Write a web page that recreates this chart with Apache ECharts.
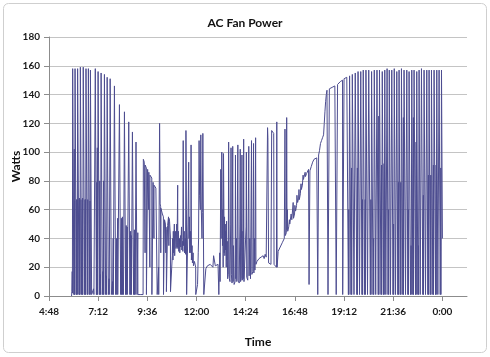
<!DOCTYPE html>
<html><head><meta charset="utf-8">
<script src="https://cdn.jsdelivr.net/npm/echarts@6/dist/echarts.min.js"></script>
<style>html,body{margin:0;padding:0;background:#fff}#c{width:490px;height:357px}</style>
</head><body><div id="c"></div>
<script>
// time in minutes after midnight, power in watts
const morningRun = [[354,0],[355,3],[356,17],[356.5,2],
[357,2],[357.3,158],[360.5,158],[360.8,1],[361.5,1],[362,102],[362.3,1],[363,66],[363.3,1],
[364,1],[364.3,158],[367.5,159],[367.8,1],[368.5,1],[369,67],[369.3,1],[370.5,67],[370.8,1],
[371.5,1],[371.8,158],[375.5,159],[375.8,1],[376.5,1],[377,68],[377.3,1],[378.5,67],[378.8,1],
[379.5,1],[379.8,159],[383.3,159],[383.6,1],[384.5,1],[385,67],[385.3,1],[386.5,68],[386.8,1],
[388,1],[388.3,159],[392,158],[392.3,1],[393,1],[393.5,67],[393.8,1],[395,67],[395.3,1],
[396,1],[396.3,158],[400,158],[400.3,1],[401,1],[401.5,67],[401.8,1],
[403,1],[403.3,158],[406.8,158],[407.1,1],[407.8,1],[408.2,66],[408.5,1],
[409,1],[409.3,157],[412.5,158],[412.8,1],[414,1],[417,2],[418.5,5],[419.5,1],[423,1]];

const lateMorning = [[423.3,1],[423.6,158],[426.5,159],[426.8,1],[427.5,1],[428,79],[428.3,1],[429.5,103],[429.8,1],
[431.5,1],[431.8,156],[435,156],[435.3,1],[436,1],[436.5,80],[436.8,1],[438.5,15],[439,1],
[440.3,1],[440.6,155],[443.8,154],[444.1,1],[445,1],[446,17],[446.5,1],[448,80],[448.3,1],
[450,1],[450.3,154],[453.5,153],[453.8,1],[455,1],[456,14],[456.5,1],
[458,1],[458.3,152],[461.5,152],[461.8,1],[463,1],[464,12],[464.5,1],
[466.8,1],[467.1,151],[470.3,150],[470.6,1],[472,1],[474,10],[474.5,1],[476,40],[476.3,1],
[479.3,1],[479.6,146],[482.8,145],[483.1,1],[485,1],[486,40],[486.3,1],[489,54],[489.3,1],
[494,1],[494.3,133],[497.5,132],[497.8,1],[499,1],[500,54],[500.3,1],[503,55],[503.3,1],[505,5],[506,1],
[508.6,1],[508.9,128],[512,127],[512.3,1],[513.5,1],[514,49],[514.3,1],[517,48],[517.3,1],[519,1],
[521.2,1],[521.5,121],[524.5,120],[524.8,1],[526,1],[527,45],[527.3,1],[529,42],[529.3,1],
[532,1],[532.3,114],[535.3,113],[535.6,1],[537,1],[538,46],[538.3,1],[540,40],[540.3,1],
[542.5,1],[542.8,107],[545.5,106],[545.8,1],[547,1],[548,44],[548.3,1],[551,2],[555,1],[560,2],[563.5,1],
[564,1],[564.3,95],[567,93],[569,92],[569.3,30],[569.6,91],[573,89],[573.3,1],[576.5,1],[576.8,88],[579,87],[580,60],
[580.4,86],[583,85],[583.3,20],[583.6,84],[586,83],[589,82],[589.3,1],
[592.5,1],[592.8,79],[595,78],[595.3,40],[595.6,77],[599,76],[601,75],[604.5,74],[604.8,1],[607,1],[609,20],[609.3,1],
[611.5,1],[611.8,120],[613.5,64],[615,62],[615.3,30],[615.6,61],[617,60],[620,57],[623,55],[623.3,1]];

const midday = [[626,1],[626.3,53],[629,50],[630,30],[630.3,48],[631.5,46],[631.8,3],[635,2],[635.3,49],[638,55],[639,35],[639.3,54],[641,52],[643.5,41],[643.8,3],
[648,2],[649,28],[650,40],[651,25],[652,45],[653,30],[655,50],[656,28],[657,36],[659,45],[660,33],[662,50],[663,34],[664.5,34],[664.8,77],[665.3,33],[667,45],[668,31],[670,40],[671,30],
[673,42],[674,34],[676,48],[677,32],[679,38],[680,31],[681,108],[682,35],[684,45],[685,30],[687,40],[688,29],[689,115],[690.5,60],[691,1],[694,1],[695,50],
[697,93],[698,40],[699,55],[700,30],[702,45],[703.5,30],[704,105],[705,25],[707,35],[708,23],[710,30],[711,21],[714,24],[717.5,20],[717.8,1],
[721,1],[723,8],[725,30],[726,40],[727.5,108],[729,70],[731,60],[732.5,112],[734,60],[736,40],[737,58],[738.5,113],[741,113],[741.3,1],
[746,1],[747,1],[747.3,19],[752,21],[756,20],[760,22],[764,21],[768,20],[770,28],[773,27],[775,21],[779,20],[783,22],[785,21],[785.3,1]];

const afternoon = [[786,1],[788,30],[789,10],[791,88],[792,40],[794,100],[795,100],[796,35],[797,60],[798,20],[799,99],[800,99],[801,30],
[802,55],[803,28],[804,50],[805,32],[806,45],[807,20],[808,52],[809,25],[810,38],[811,12],[813,15],[814,107],[815,106],[816,12],
[818,10],[820,50],[821,103],[822,15],[824,9],[826,104],[827,10],[828,35],[830,8],[833,10],[834,98],[835,12],
[837,40],[838,10],[841,105],[842,11],[845,9],[847,50],[848,102],[849,10],[851,12],[853,98],[854,11],
[856,45],[857,12],[858,109],[859,10],[863,9],[865,48],[866,100],[867,13],[870,11],[873,104],[874,14],
[876,40],[878,12],[881,108],[882,15],[885,17],[887,106],[888,16],[890,40],[891,18],[893,110],[894,22],[897,24],[900,23]];

const rampUp = [[903,26],[906,25],[909,27],[912,26],[915,28],[918,26],[921,29],[924,27],[927,27],[928,117],[929,110],
[931,23],[935,24],[938,22],[940,115],[943,114],[946,113],[947,22],[951,21],[954,20],[955,121],[956,20],[959,31],
[962,32],[965,34],[968,35],[971,37],[974,38],[977,40],[979,116],[980,42],[983,44],[984,124],[985,46],[986,60],[987,45],
[990,48],[992,53],[993,50],[996,51],[997,57],[999,53],[1002,54],[1003,65],[1004,54],[1007,57],[1008,63],[1010,59],[1013,63],[1014,70],[1016,65],
[1019,68],[1020,74],[1021,67],[1024,71],[1026,78],[1027,74],[1030,77],[1032,84],[1033,81],[1036,82],[1038,86],[1039,83],[1042,85],[1045,86],[1048,88],
[1049,87],[1049.5,8],[1051,8],[1052,87],[1056,90],[1060,93],[1064,95],[1068,96],[1072,96],[1074.5,96],[1075,1],
[1077,1],[1077.5,98],[1080,101],[1083,106],[1086,108],[1089,110],[1092,112],[1094,120],[1096,128],[1098,135],
[1100,140],[1102,143],[1104.5,144],[1105,1],[1108.5,1],[1109,144],[1113,145],[1117,145],[1121,146],[1125,146],
[1128.5,147],[1129,1],[1132.5,1],[1133,147],[1137,148],[1141,149],[1145,150],[1147.5,150],[1148,1]];

const evening = [[1151.5,1],[1152,151],[1156,152],[1160,152],[1164.4,152],[1164.7,1],[1165.8,60],[1166.1,1],[1167.8,1],[1168.2,153],[1172,153],
[1172.2,1],[1174,89],[1174.3,1],[1175.8,1],[1176.2,154],[1180.8,155],[1181.1,1],[1184.5,1],[1184.8,155],[1189,156],
[1189.3,1],[1191,89],[1191.3,1],[1192.7,1],[1193,156],[1197,157],[1197.3,1],[1200.6,1],[1200.9,156],[1204.2,157],
[1204.5,1],[1206,67],[1206.3,1],[1207.9,1],[1208.2,157],[1212,156],[1212.3,1],[1214,67],[1214.3,1],[1215.8,1],[1216.1,157],[1220.4,158],
[1220.7,1],[1224,1],[1224.3,157],[1228.6,157],[1228.9,1],[1230.6,67],[1230.9,1],[1232.3,1],[1232.6,156],[1236.5,157],
[1236.8,1],[1238.5,40],[1238.8,1],[1240.2,1],[1240.5,157],[1244.4,158],[1244.7,1],[1248.1,1],[1248.4,157],[1251.7,156],
[1252,1],[1253.7,125],[1254,1],[1255.4,1],[1255.7,157],[1259.9,157],[1260.2,1],[1261.9,91],[1262.2,1],[1263.6,1],[1263.9,156],[1267.2,157],
[1267.5,1],[1269.2,92],[1269.5,1],[1270.9,1],[1271.2,157],[1274,157],[1274.3,1],[1277.7,1],[1278,158],[1280.4,157],
[1280.7,1],[1282.4,60],[1282.7,1],[1284.1,1],[1284.4,157],[1287.7,156],[1288,1],[1291.4,1],[1291.7,157],[1295,157],
[1295.3,1],[1297,50],[1297.3,1],[1298.7,1],[1299,158],[1302.4,157],[1302.7,1],[1306.1,1],[1306.4,156],[1309.1,157],
[1309.4,1],[1311.1,79],[1311.4,1],[1312.8,1],[1313.1,157],[1316.1,157],[1316.4,1],[1318.1,79],[1318.4,1],[1319.8,1],[1320.1,158],[1323.7,157],
[1324,1],[1325.7,124],[1326,1],[1327.4,1],[1327.7,157],[1331.7,156],[1332,1],[1335.4,1],[1335.7,157],[1338.4,157],
[1338.7,1],[1340.4,60],[1340.7,1],[1342.1,1],[1342.4,156],[1346.3,157],[1346.6,1],[1348.3,35],[1348.6,1],[1350,1],[1350.3,157],[1353,158],
[1353.3,1],[1355,124],[1355.3,1],[1356.7,1],[1357,157],[1360.9,157],[1361.2,1],[1362.9,107],[1363.2,1],[1364.6,1],[1364.9,156],[1367.7,157],
[1368,1],[1369.7,35],[1370,1],[1371.4,1],[1371.7,157],[1374.7,157],[1375,1],[1378.4,1],[1378.7,158],[1382.3,157],
[1382.6,1],[1384.3,70],[1384.6,1],[1386,1],[1386.3,157],[1390.2,156],[1390.5,1],[1393.9,1],[1394.2,157],[1397,157],
[1397.3,1],[1399,84],[1399.3,1],[1400.7,1],[1401,157],[1404,157],[1404.3,1],[1406,84],[1406.3,1],[1407.7,1],[1408,157],[1411.6,158],
[1411.9,1],[1413.6,91],[1413.9,1],[1415.3,1],[1415.6,157],[1419.5,157],[1419.8,1],[1421.5,91],[1421.8,1],[1423.2,1],[1423.5,157],[1426.3,156],
[1426.6,1],[1430,1],[1430.3,157],[1433.3,157],[1433.6,1],[1435.3,89],[1435.6,1],[1437,1],[1437.3,157],[1439.5,157],[1440,40]];

const tickMinutes = [288,432,576,720,864,1008,1152,1296,1440];
const yTicks = {min:0, max:180, step:20};

const data = [].concat(morningRun, lateMorning, midday, afternoon, rampUp, evening);

function fmt(v){const h=Math.floor(v/60)%24, m=Math.round(v%60);return h+':'+(m<10?'0':'')+m;}
const font = 'Lato, "Open Sans", sans-serif';
const chart = echarts.init(document.getElementById('c'), null, {renderer:'canvas'});
chart.setOption({
  animation:false,
  backgroundColor:'#fff',
  title:{text:'AC Fan Power', left:'center', top:12, textStyle:{fontFamily:font, fontSize:12, fontWeight:'bold', color:'#111'}},
  graphic:[{type:'rect', shape:{x:3.5,y:3.5,width:483,height:349,r:5}, style:{fill:'none', stroke:'#cfcfcf', lineWidth:1}, silent:true}],
  grid:{left:49, right:23, top:37, bottom:61, containLabel:false, outerBoundsMode:'none'},
  xAxis:{type:'value', min:288, max:1512, interval:144,
    name:'Time', nameLocation:'middle', nameGap:40, nameMoveOverlap:false,
    nameTextStyle:{fontFamily:font, fontSize:12, fontWeight:'bold', color:'#111'},
    axisLine:{show:true, onZero:false, lineStyle:{color:'#8c8c8c', width:1}},
    axisTick:{show:true, length:5, customValues:tickMinutes, lineStyle:{color:'#8c8c8c'}},
    axisLabel:{customValues:tickMinutes, formatter:fmt, margin:11, fontFamily:font, fontSize:10, fontWeight:'bold', color:'#1a1a1a'},
    splitLine:{show:false}},
  yAxis:{type:'value', min:yTicks.min, max:yTicks.max, interval:yTicks.step,
    name:'Watts', nameLocation:'middle', nameGap:27, nameRotate:90, nameMoveOverlap:false,
    nameTextStyle:{fontFamily:font, fontSize:12, fontWeight:'bold', color:'#111'},
    axisLine:{show:true, lineStyle:{color:'#8c8c8c', width:1}},
    axisTick:{show:true, length:5, lineStyle:{color:'#8c8c8c'}},
    axisLabel:{margin:9, fontFamily:font, fontSize:10, fontWeight:'bold', color:'#1a1a1a'},
    splitLine:{show:true, lineStyle:{color:'#c4c4c4', width:1}}},
  series:[{type:'line', data:data, showSymbol:false, symbol:'none', sampling:null, clip:true,
    lineStyle:{color:'#4d4d90', width:1}, itemStyle:{color:'#4d4d90'}}]
});
</script></body></html>
